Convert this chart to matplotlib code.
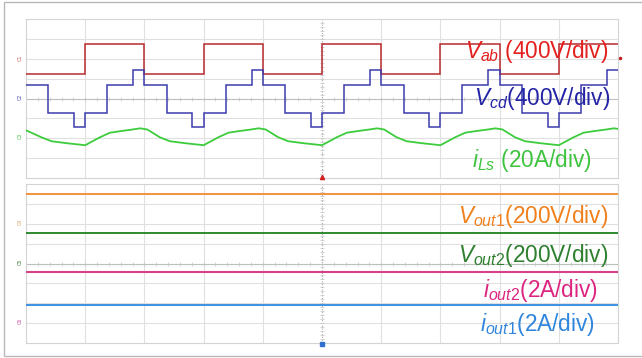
import matplotlib
matplotlib.use("Agg")
import matplotlib.pyplot as plt
from matplotlib.patches import Rectangle

plt.rcParams["font.family"] = ["Liberation Sans", "DejaVu Sans"]
plt.rcParams["mathtext.fontset"] = "custom"
plt.rcParams["mathtext.rm"] = "Liberation Sans"
plt.rcParams["mathtext.it"] = "Liberation Sans:italic"

# all values in screen divisions (10 horizontal x 8 vertical per panel)
VAB_EDGES = [0, 1, 2, 3, 4, 5, 6, 7, 8, 9, 10]
VAB_LEVELS = [1.25, 2.75, 1.25, 2.75, 1.25, 2.75, 1.25, 2.75, 1.25, 2.75]

VCD_EDGES = [0, 0.38, 0.81, 1.0, 1.37, 1.81, 2.0, 2.38, 2.81, 3.0, 3.37, 3.81,
             4.0, 4.38, 4.81, 5.0, 5.37, 5.81, 6.0, 6.38, 6.81, 7.0, 7.37, 7.81,
             8.0, 8.38, 8.81, 9.0, 9.37, 9.81, 10.0]
VCD_LEVELS = [0.7, -0.75, -1.45, -0.75, 0.7, 1.45,
              0.7, -0.75, -1.45, -0.75, 0.7, 1.45,
              0.7, -0.75, -1.45, -0.75, 0.7, 1.45,
              0.7, -0.75, -1.45, -0.75, 0.7, 1.45,
              0.7, -0.75, -1.45, -0.75, 0.7, 1.45]

ILS_T = [0, 0.26, 0.43, 0.69, 1.0,
         1.25, 1.42, 1.6, 1.8, 1.93, 2.05, 2.26, 2.43, 2.69, 3.0,
         3.25, 3.42, 3.6, 3.8, 3.93, 4.05, 4.26, 4.43, 4.69, 5.0,
         5.25, 5.42, 5.6, 5.8, 5.93, 6.05, 6.26, 6.43, 6.69, 7.0,
         7.25, 7.42, 7.6, 7.8, 7.93, 8.05, 8.26, 8.43, 8.69, 9.0,
         9.25, 9.42, 9.6, 9.8, 9.93, 10.0]
ILS_V = [-1.60, -1.95, -2.15, -2.25, -2.35,
         -1.95, -1.72, -1.64, -1.56, -1.50, -1.56, -1.95, -2.15, -2.25, -2.35,
         -1.95, -1.72, -1.64, -1.56, -1.50, -1.56, -1.95, -2.15, -2.25, -2.35,
         -1.95, -1.72, -1.64, -1.56, -1.50, -1.56, -1.95, -2.15, -2.25, -2.35,
         -1.95, -1.72, -1.64, -1.56, -1.50, -1.56, -1.95, -2.15, -2.25, -2.35,
         -1.95, -1.72, -1.64, -1.56, -1.50, -1.53]

DC_T = [0, 10]
VOUT1 = [3.5, 3.5]
VOUT2 = [1.55, 1.55]
IOUT2 = [-0.45, -0.45]
IOUT1 = [-2.1, -2.1]

UPPER_LABELS = [
    (r"$V_{ab}$ (400V/div)", 9.83, 2.05, "#e4201e"),
    (r"$V_{cd}$(400V/div)", 9.86, -0.35, "#2424a6"),
    (r"$i_{Ls}$ (20A/div)", 9.56, -3.45, "#3fc43f"),
]
LOWER_LABELS = [
    (r"$V_{out1}$(200V/div)", 9.83, 2.05, "#f0801c"),
    (r"$V_{out2}$(200V/div)", 9.83, 0.1, "#2e7f2e"),
    (r"$i_{out2}$(2A/div)", 9.66, -1.7, "#dc2480"),
    (r"$i_{out1}$(2A/div)", 9.61, -3.4, "#2f86dc"),
]


def scope_grid(ax):
    ax.set_xlim(0, 10)
    ax.set_ylim(-4, 4)
    ax.set_xticks([])
    ax.set_yticks([])
    for s in ax.spines.values():
        s.set_color("#d4d4d4")
        s.set_linewidth(0.8)
    for x in range(1, 10):
        if x == 5:
            ax.axvline(x, color="#a8a8a8", lw=0.8, ls=(0, (1, 1.5)), zorder=1)
        else:
            ax.axvline(x, color="#e0e0e0", lw=0.8, zorder=1)
    for y in range(-3, 4):
        if y == 0:
            ax.axhline(y, color="#bdbdbd", lw=0.8, zorder=1)
        else:
            ax.axhline(y, color="#e0e0e0", lw=0.8, zorder=1)
    minor_x = [i / 5 for i in range(1, 50)]
    ax.plot(minor_x, [0] * len(minor_x), ls="none", marker="|", ms=2.5,
            mew=0.5, color="#c4c4c4", zorder=1)
    minor_y = [i / 5 - 4 for i in range(1, 40)]
    ax.plot([5] * len(minor_y), minor_y, ls="none", marker="_", ms=2.5,
            mew=0.5, color="#c4c4c4", zorder=1)


def main():
    fig = plt.figure(figsize=(6.42, 3.58), dpi=100)
    fig.patches.append(Rectangle((4 / 642, 2 / 358), 640 / 642, 354 / 358,
                                 transform=fig.transFigure, fill=False,
                                 edgecolor="#b8b8b8", lw=1.0))

    ax1 = fig.add_axes([26 / 642, 180 / 358, 592 / 642, 159 / 358])
    ax2 = fig.add_axes([26 / 642, 15 / 358, 592 / 642, 159 / 358])
    scope_grid(ax1)
    scope_grid(ax2)

    ax1.stairs(VAB_LEVELS, VAB_EDGES, baseline=None, color="#b82a2c", lw=1.1, zorder=3)
    ax1.stairs(VCD_LEVELS, VCD_EDGES, baseline=None, color="#3c3cac", lw=1.1, zorder=3)
    ax1.plot(ILS_T, ILS_V, color="#3ccc3c", lw=1.3, zorder=3)

    ax2.plot(DC_T, VOUT1, color="#f3923a", lw=1.4, zorder=3)
    ax2.plot(DC_T, VOUT2, color="#2e8a2e", lw=1.4, zorder=3)
    ax2.plot(DC_T, IOUT2, color="#d8408a", lw=1.5, zorder=3)
    ax2.plot(DC_T, IOUT1, color="#3c92e0", lw=1.4, zorder=3)

    for text, x, y, c in UPPER_LABELS:
        ax1.text(x, y, text, color=c, fontsize=16.3, ha="right", va="baseline", zorder=5)
    for text, x, y, c in LOWER_LABELS:
        ax2.text(x, y, text, color=c, fontsize=16.3, ha="right", va="baseline", zorder=5)

    # channel offset markers on the left edge
    for ax, y, c, lab in [(ax1, 2.05, "#d06060", "C1"), (ax1, 0.1, "#5050b0", "C2"),
                          (ax1, -1.9, "#50c050", "C3"), (ax2, 2.1, "#d0a060", "C4"),
                          (ax2, 0.1, "#408040", "C5"), (ax2, -2.9, "#c050a0", "C6")]:
        ax.text(-0.1, y, lab, color=c, fontsize=3.5, rotation=90,
                ha="center", va="center", clip_on=False)

    # trigger markers
    ax1.plot([5], [-3.95], marker="^", ms=3, color="#d02020", clip_on=False, zorder=6)
    ax2.plot([5], [-4.05], marker="s", ms=2.5, color="#3070d0", clip_on=False, zorder=6)
    ax1.plot([10.03], [2.05], marker="o", ms=1.5, color="#c02020", clip_on=False, zorder=6)

    fig.savefig("out.png", dpi=100)
    plt.close(fig)


if __name__ == "__main__":
    main()
